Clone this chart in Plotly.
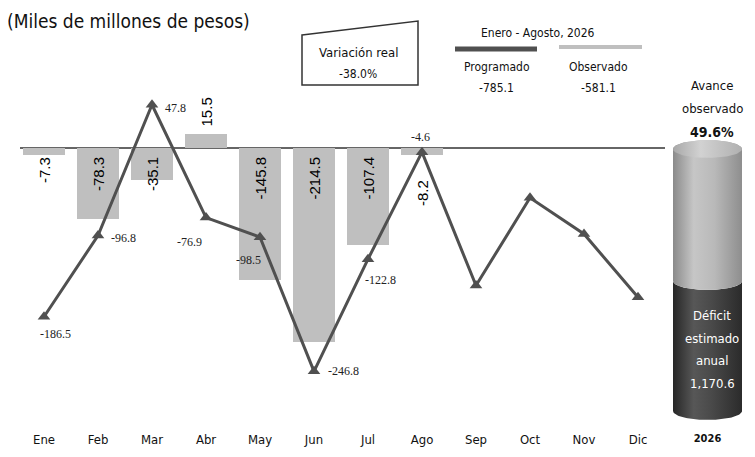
import numpy as np
import plotly.graph_objects as go

# ---------------- data ----------------
months = ["Ene", "Feb", "Mar", "Abr", "May", "Jun", "Jul", "Ago", "Sep", "Oct", "Nov", "Dic"]
observado = [-7.3, -78.3, -35.1, 15.5, -145.8, -214.5, -107.4, -8.2, None, None, None, None]
programado = [-186.5, -96.8, 47.8, -76.9, -98.5, -246.8, -122.8, -4.6, -152.0, -55.0, -95.0, -165.0]
n_labeled = 8
total_programado = -785.1
total_observado = -581.1
variacion_real = -38.0
avance_pct = 49.6
deficit_anual = 1170.6
year_label = "2026"

# ---------------- geometry helpers ----------------
# the page body adds an 8px offset; figure is sized to fit the 755x457 window
OFF = 8
W, H = 755 - OFF, 457 - OFF
ML, MR, MT, MB = 12, 0, 49, 27
PW, PH = W - ML - MR, H - MT - MB


def px(x):  # screenshot x -> paper
    return (x - OFF - ML) / PW


def py(y):  # screenshot y -> paper
    return (H - MB - (y - OFF)) / PH


NARROW = "Liberation Sans Narrow, DejaVu Sans Condensed, Liberation Sans, Arial, sans-serif"
SERIF = "Liberation Serif, DejaVu Serif, serif"
SANS = "Liberation Sans, Arial, sans-serif"
LINE_C = "#505050"
BAR_C = "#bfbfbf"

x = list(range(len(months)))

fig = go.Figure()

fig.add_trace(go.Bar(
    x=x, y=observado, width=0.78, marker=dict(color=BAR_C, line=dict(width=0)),
    showlegend=False, hoverinfo="skip",
))
fig.add_trace(go.Scatter(
    x=x, y=programado, mode="lines+markers",
    line=dict(color=LINE_C, width=3),
    marker=dict(symbol="triangle-up", size=11, color=LINE_C),
    showlegend=False, hoverinfo="skip",
))

# ---------------- cylinder (avance observado) ----------------
ry = 3.4
t = np.linspace(0, np.pi, 60)
dx = list(np.cos(t[::-1])) + [1.0] + list(np.cos(t))
dy = list(0 - ry * np.sin(t[::-1])) + [avance_pct] + list(avance_pct - ry * np.sin(t))
fig.add_trace(go.Scatter(
    x=dx, y=dy, xaxis="x2", yaxis="y2", mode="lines", fill="toself",
    line=dict(width=0), hoverinfo="skip", showlegend=False,
    fillgradient=dict(type="horizontal",
                      colorscale=[[0, "#262626"], [0.3, "#575757"], [0.55, "#4a4a4a"], [1, "#2b2b2b"]]),
))
lx = list(np.cos(t[::-1])) + [1.0] + list(np.cos(t))
ly = list(avance_pct - ry * np.sin(t[::-1])) + [100] + list(100 + ry * np.sin(t))
fig.add_trace(go.Scatter(
    x=lx, y=ly, xaxis="x2", yaxis="y2", mode="lines", fill="toself",
    line=dict(width=0), hoverinfo="skip", showlegend=False,
    fillgradient=dict(type="horizontal",
                      colorscale=[[0, "#8a8a8a"], [0.3, "#c6c6c6"], [0.6, "#b9b9b9"], [1, "#8e8e8e"]]),
))
tt = np.linspace(0, 2 * np.pi, 120)
fig.add_trace(go.Scatter(
    x=list(np.cos(tt)), y=list(100 + ry * np.sin(tt)), xaxis="x2", yaxis="y2",
    mode="lines", fill="toself", line=dict(width=0), hoverinfo="skip", showlegend=False,
    fillgradient=dict(type="horizontal",
                      colorscale=[[0, "#a8a8a8"], [0.4, "#d2d2d2"], [1, "#b0b0b0"]]),
))

ann = []

# bar value labels
for i, v in enumerate(observado):
    if v is None:
        continue
    if v >= 0:
        ann.append(dict(x=i, y=v, xref="x", yref="y", text=f"{v:.1f}", textangle=-90,
                        yanchor="bottom", yshift=5, showarrow=False,
                        font=dict(family=SANS, size=15, color="#000")))
    else:
        shift = -30 if i == 7 else -7
        ann.append(dict(x=i, y=0, xref="x", yref="y", text=f"{v:.1f}", textangle=-90,
                        yanchor="top", yshift=shift, showarrow=False,
                        font=dict(family=SANS, size=15, color="#000")))

# line value labels
offs = [(11, -17), (25, -2), (23, -3), (-17, -24), (-12, -23), (29, 0), (12, -21), (-2, 15)]
for i in range(n_labeled):
    v = programado[i]
    ann.append(dict(x=i, y=v, xref="x", yref="y", text=f"{v:.1f}", showarrow=False,
                    xshift=offs[i][0], yshift=offs[i][1],
                    font=dict(family=SERIF, size=12, color="#222")))


def txt(xp, yp, s, size=12, color="#111", family=NARROW, anchor="center"):
    ann.append(dict(x=px(xp), y=py(yp), xref="paper", yref="paper", text=s, showarrow=False,
                    xanchor=anchor, yanchor="middle", borderpad=0,
                    font=dict(family=family, size=size, color=color)))


txt(6, 21, "(Miles de millones de pesos)", size=19, anchor="left")
txt(358, 52, "Variación real", size=13)
txt(358, 74, f"{variacion_real:.1f}%", size=12)
txt(538, 33, "Enero - Agosto, " + year_label, size=12)
txt(497, 67, "Programado", size=12)
txt(496, 88, f"{total_programado:.1f}", size=12)
txt(598, 67, "Observado", size=12)
txt(598, 88, f"{total_observado:.1f}", size=12)
txt(712, 85, "Avance", size=13)
txt(712, 108, "observado", size=13)
txt(712, 132, f"<b>{avance_pct:.1f}%</b>", size=14)
txt(712, 315, "Déficit", size=13, color="#fff")
txt(712, 338, "estimado", size=13, color="#fff")
txt(712, 360, "anual", size=13, color="#fff")
txt(712, 383, f"{deficit_anual:,.1f}", size=13, color="#fff")

shapes = [
    dict(type="path", xref="paper", yref="paper",
         path=f"M {px(302)} {py(35)} L {px(418)} {py(21)} L {px(418)} {py(85)} L {px(302)} {py(85)} Z",
         line=dict(color="#333", width=1.5), fillcolor="rgba(0,0,0,0)"),
    dict(type="line", xref="paper", yref="paper", x0=px(455), x1=px(537), y0=py(49), y1=py(49),
         line=dict(color=LINE_C, width=5)),
    dict(type="line", xref="paper", yref="paper", x0=px(559), x1=px(642), y0=py(47), y1=py(47),
         line=dict(color=BAR_C, width=4)),
]

# axis ranges from screenshot pixel geometry
plot_top_px = MT + OFF          # 57
plot_bot_px = H - MB + OFF      # 430
zero_px = 148
scale = 0.905  # px per unit
y_top = (zero_px - plot_top_px) / scale
y_bot = -(plot_bot_px - zero_px) / scale
x0_px, step = 44, 54
left_px = ML + OFF

fig.update_layout(
    width=W, height=H, margin=dict(l=ML, r=MR, t=MT, b=MB),
    paper_bgcolor="white", plot_bgcolor="rgba(0,0,0,0)",
    bargap=0, showlegend=False,
    xaxis=dict(domain=[0, px(665)], range=[(left_px - x0_px) / step, (665 - x0_px) / step],
               tickmode="array", tickvals=x, ticktext=months, showgrid=False, zeroline=False,
               showline=False, ticks="", tickfont=dict(family=NARROW, size=13, color="#111")),
    yaxis=dict(range=[y_bot, y_top], showgrid=False, showticklabels=False, showline=False,
               zeroline=True, zerolinecolor="#666", zerolinewidth=1.5, ticks=""),
    xaxis2=dict(domain=[px(673), px(742)], range=[-1, 1], anchor="y2", tickmode="array",
                tickvals=[0], ticktext=[f"<b>{year_label}</b>"], showgrid=False, zeroline=False,
                showline=False, ticks="", tickfont=dict(family=NARROW, size=11, color="#111")),
    yaxis2=dict(domain=[0, 1],
                range=[-(plot_bot_px - 411) / 2.62, 100 + (149 - plot_top_px) / 2.62],
                anchor="x2", visible=False),
    annotations=ann, shapes=shapes,
)

fig.write_html("out.html")
